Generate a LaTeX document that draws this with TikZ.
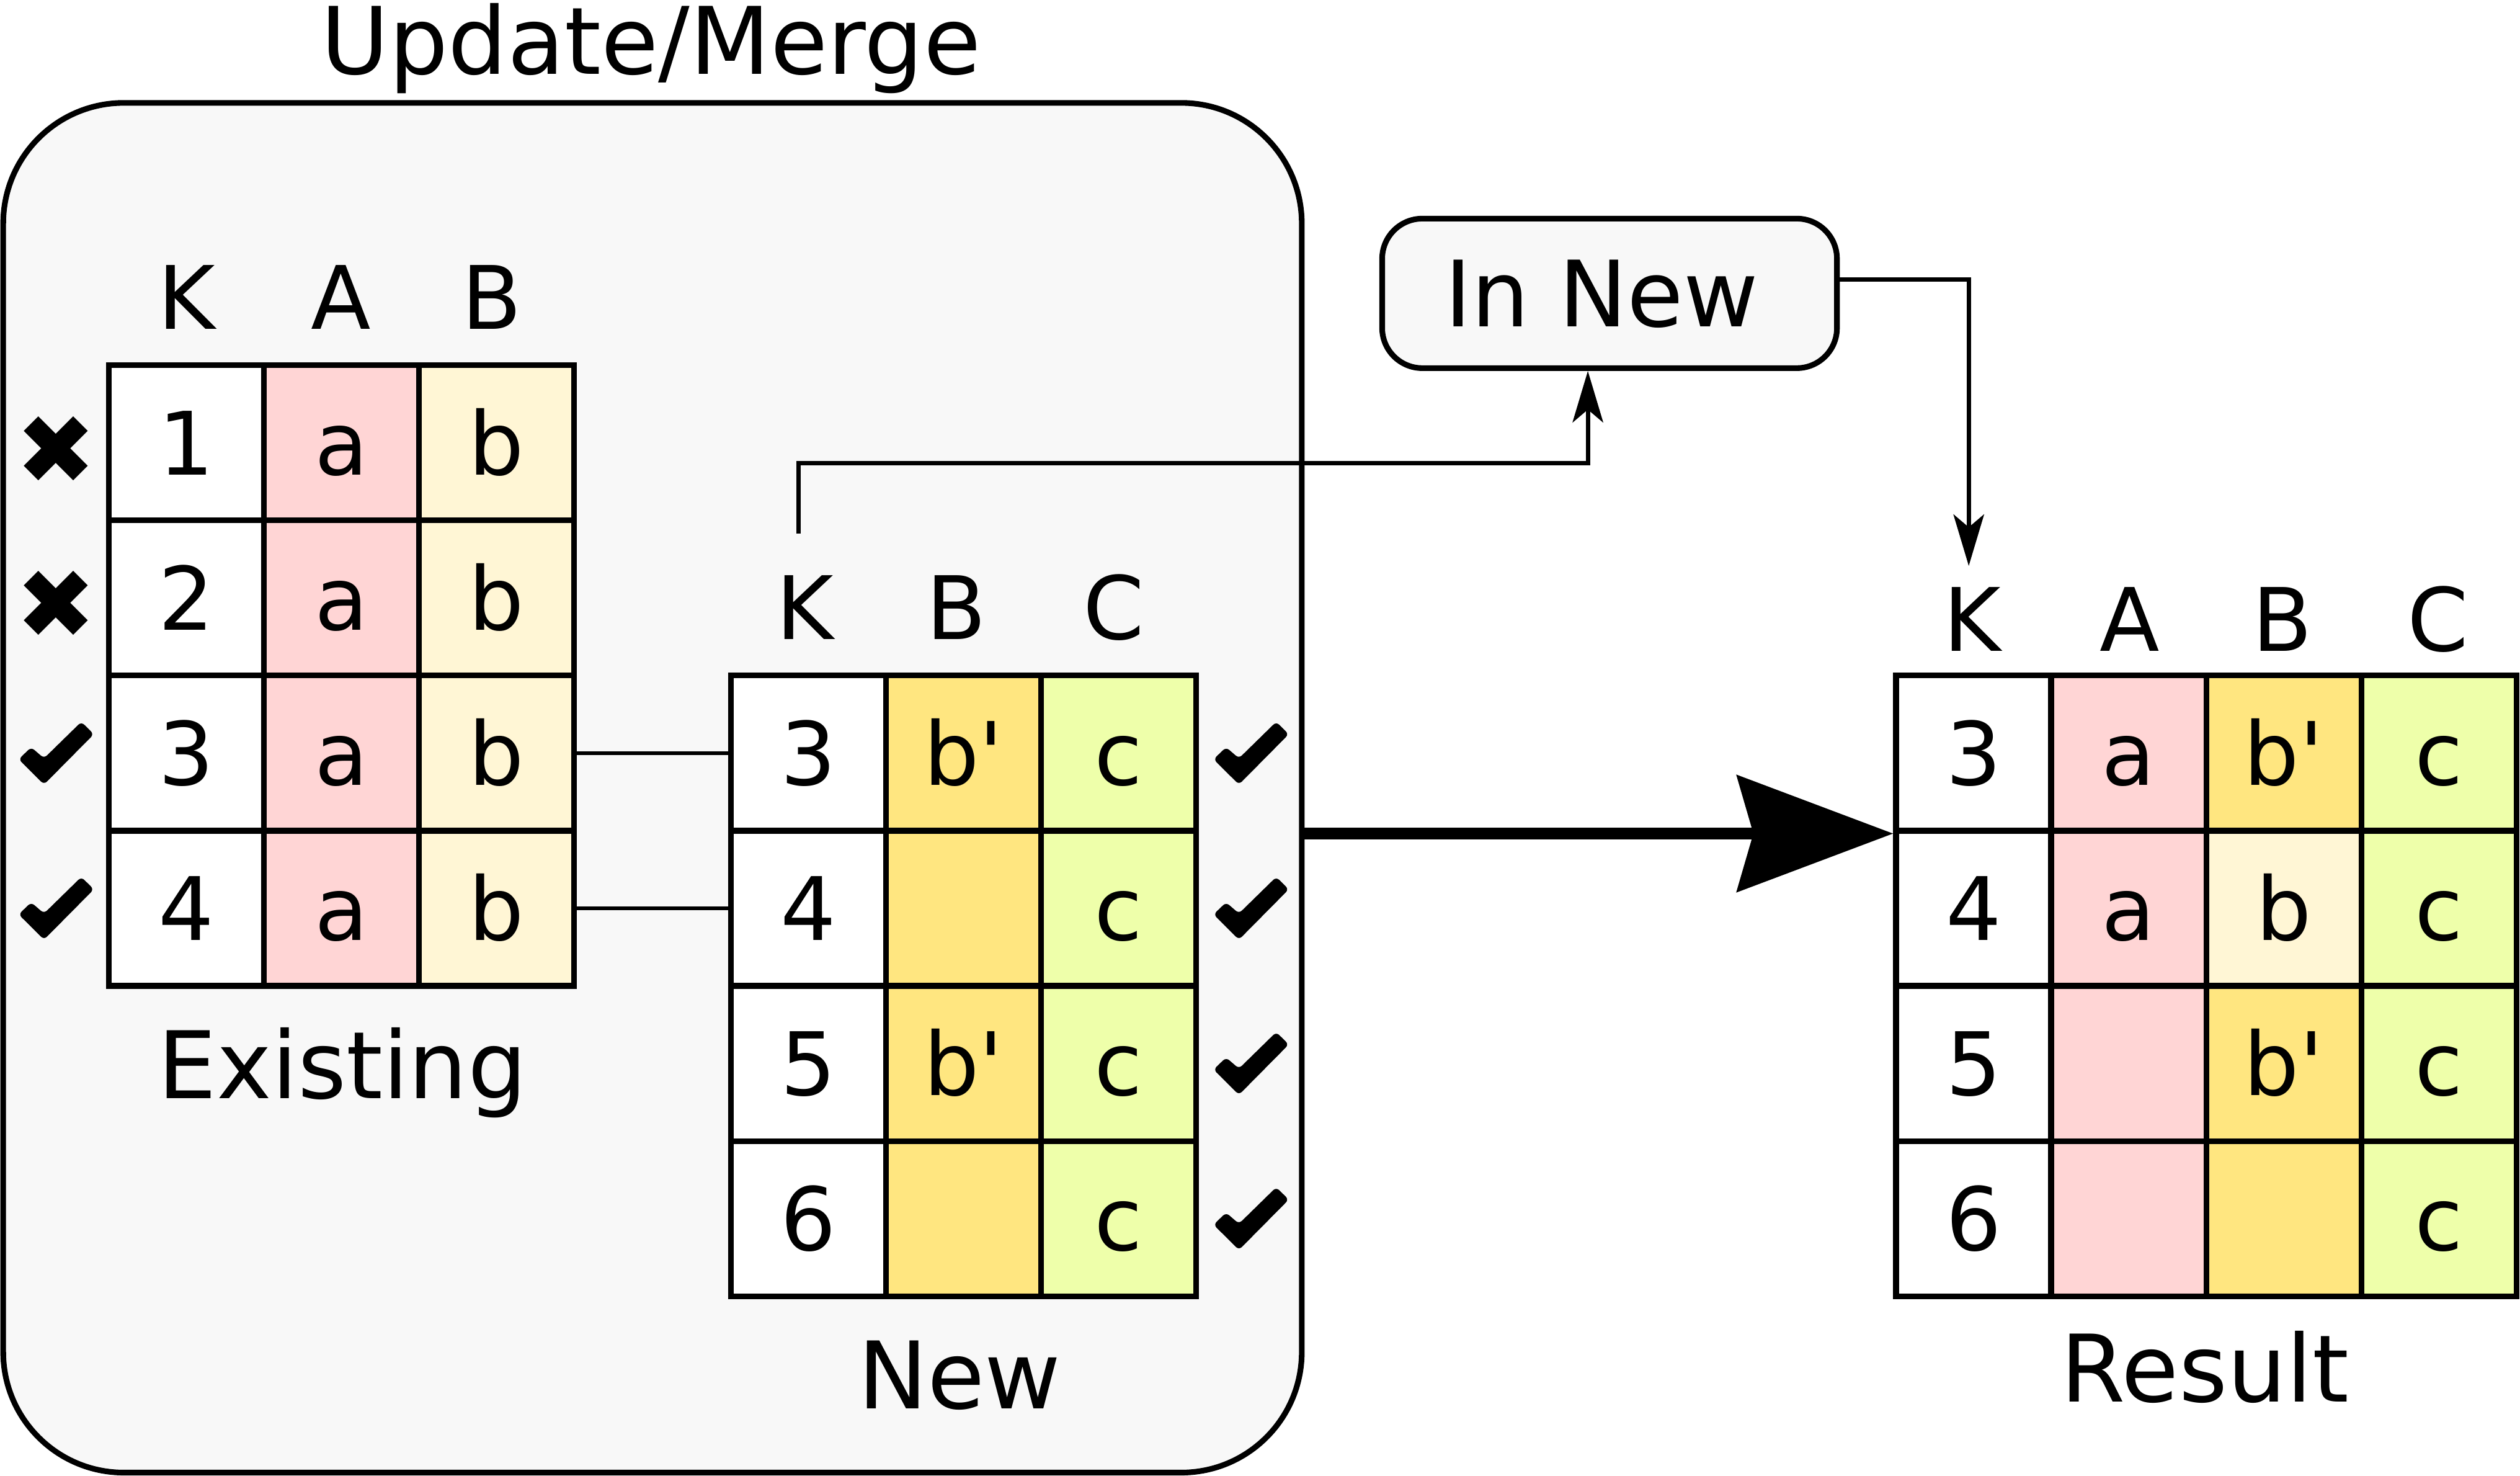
\documentclass[tikz,border=0pt]{standalone}
\usepackage{fontspec}
\setmainfont{DejaVu Sans}
\usepackage{xcolor}
\usepackage{tikz}
\usetikzlibrary{positioning, arrows.meta}
\definecolor{panel}{RGB}{248,248,248}
\definecolor{colA}{RGB}{255,213,213}
\definecolor{colB}{RGB}{255,246,213}
\definecolor{colBnew}{RGB}{255,230,128}
\definecolor{colC}{RGB}{238,255,170}
\tikzset{okmark/.pic={
  \fill[rounded corners=0.25mm] (-23.4,3.8) -- (-15.6,-3.7) -- (-7.6,3.2) -- (15.6,-19.5)
    -- (23.4,-11.8) -- (-7.6,19.5) -- cycle;}}

\begin{document}
\begin{tikzpicture}[x=0.1mm, y=-0.1mm,
  kc/.style={draw, line width=1pt, minimum size=9.65mm, inner sep=0pt, fill=white,
    font=\fontsize{15.5}{18}\selectfont, text height=11.3pt, text depth=0pt},
  ac/.style={kc, fill=colA},
  bc/.style={kc, fill=colB},
  bnc/.style={kc, fill=colBnew},
  cc/.style={kc, fill=colC},
  hd/.style={font=\fontsize{15.5}{18}\selectfont, text height=11.3pt, text depth=0pt, inner sep=0pt},
  lbl/.style={font=\fontsize{16.5}{20}\selectfont, text height=12pt, text depth=0pt, inner sep=0pt},
  mk/.style={font=\fontsize{17}{20}\selectfont, inner sep=0pt},
  link/.style={line width=0.75pt},
  tip/.style={-{Stealth[length=3.2mm, width=1.9mm, inset=0.8mm]}},
  flow/.style={line width=2.1pt, -{Stealth[length=9.7mm, width=7.2mm, inset=1mm]}}]
\useasboundingbox (0,0) rectangle (1568,918);
% panel
\node[draw, line width=1pt, fill=panel, rounded corners=7.5mm,
  minimum width=80.8mm, minimum height=85.2mm] (merge) at (406,490) {};
\node[lbl] (title) at (405,25) {Update/Merge};
% existing table
\node[hd] (ehk) at (116,185) {K}; \node[hd] (eha) at (212,185) {A}; \node[hd] (ehb) at (306,185) {B};
\node[kc] (e1k) at (116,275.5) {1}; \node[ac] (e1a) at (212.5,275.5) {a}; \node[bc] (e1b) at (309,275.5) {b};
\node[kc] (e2k) at (116,372) {2}; \node[ac] (e2a) at (212.5,372) {a}; \node[bc] (e2b) at (309,372) {b};
\node[kc] (e3k) at (116,468.5) {3}; \node[ac] (e3a) at (212.5,468.5) {a}; \node[bc] (e3b) at (309,468.5) {b};
\node[kc] (e4k) at (116,565) {4}; \node[ac] (e4a) at (212.5,565) {a}; \node[bc] (e4b) at (309,565) {b};
\node[mk] (x1) at (35,280) {✖};
\node[mk] (x2) at (35,376) {✖};
\pic at (35,468.5) {okmark};
\pic at (35,565) {okmark};
\node[lbl] (existing) at (213,662) {Existing};
% new table
\node[hd] (nhk) at (501,378) {K}; \node[hd] (nhb) at (595,378) {B}; \node[hd] (nhc) at (693,378) {C};
\node[kc] (n3k) at (503,468.5) {3}; \node[bnc] (n3b) at (599.5,468.5) {b\textquotesingle}; \node[cc] (n3c) at (696,468.5) {c};
\node[kc] (n4k) at (503,565) {4}; \node[bnc] (n4b) at (599.5,565) {}; \node[cc] (n4c) at (696,565) {c};
\node[kc] (n5k) at (503,661.5) {5}; \node[bnc] (n5b) at (599.5,661.5) {b\textquotesingle}; \node[cc] (n5c) at (696,661.5) {c};
\node[kc] (n6k) at (503,758) {6}; \node[bnc] (n6b) at (599.5,758) {}; \node[cc] (n6c) at (696,758) {c};
\pic at (778.5,468.5) {okmark};
\pic at (778.5,565) {okmark};
\pic at (778.5,661.5) {okmark};
\pic at (778.5,758) {okmark};
\node[lbl] (new) at (597,855) {New};
\draw[link] (e3b) -- (n3k);
\draw[link] (e4b) -- (n4k);
% in new
\node[draw, line width=1pt, fill=panel, rounded corners=2.5mm, minimum width=28.3mm,
  minimum height=9.3mm, font=\fontsize{16.2}{20}\selectfont, text height=11.8pt, text depth=0pt]
  (innew) at (1001.5,182.5) {\hspace*{-1mm}In New};
\coordinate (tap) at (497,332);
\coordinate (drop) at (1225,352);
\draw[link, tip] (tap) -- ++(0,-44) -| ([xshift=-1.35mm]innew.south);
\draw[link, tip] ([yshift=0.85mm]innew.east) -| (drop);
% result table
\node[hd] (rhk) at (1227,385) {K}; \node[hd] (rha) at (1325,385) {A};
\node[hd] (rhb) at (1420,385) {B}; \node[hd] (rhc) at (1517,385) {C};
\node[kc] (r3k) at (1228,468.5) {3}; \node[ac] (r3a) at (1324.5,468.5) {a};
\node[bnc] (r3b) at (1421,468.5) {b\textquotesingle}; \node[cc] (r3c) at (1517.5,468.5) {c};
\node[kc] (r4k) at (1228,565) {4}; \node[ac] (r4a) at (1324.5,565) {a};
\node[bc] (r4b) at (1421,565) {b}; \node[cc] (r4c) at (1517.5,565) {c};
\node[kc] (r5k) at (1228,661.5) {5}; \node[ac] (r5a) at (1324.5,661.5) {};
\node[bnc] (r5b) at (1421,661.5) {b\textquotesingle}; \node[cc] (r5c) at (1517.5,661.5) {c};
\node[kc] (r6k) at (1228,758) {6}; \node[ac] (r6a) at (1324.5,758) {};
\node[bnc] (r6b) at (1421,758) {}; \node[cc] (r6c) at (1517.5,758) {c};
\node[lbl] (result) at (1372,851) {Result};
\draw[flow] (merge.east |- r3k.south west) -- (r3k.south west);
\end{tikzpicture}
\end{document}
